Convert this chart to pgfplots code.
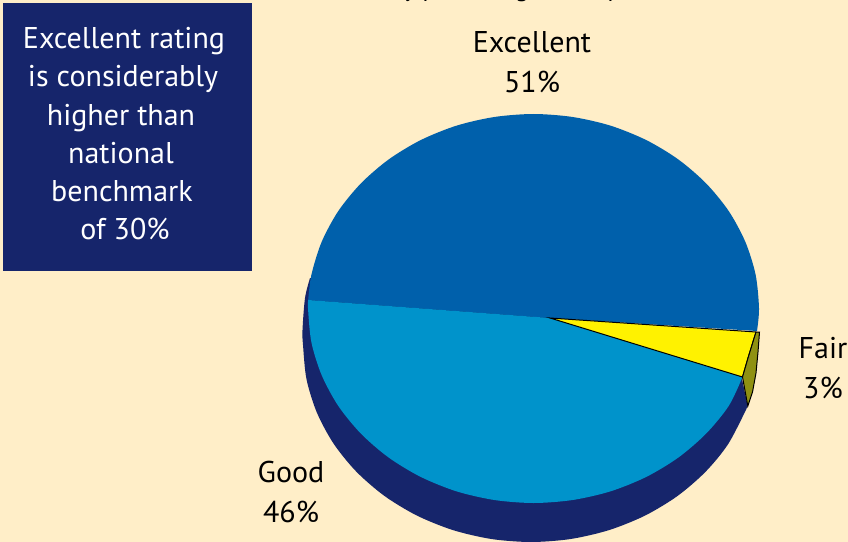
\documentclass[border=0pt]{standalone}
\usepackage{fontspec}
\setmainfont{PT Sans}
\usepackage{pgfplots}
\pgfplotsset{compat=1.18}
\definecolor{paper}{HTML}{FFEEC8}
\definecolor{navy}{HTML}{16256B}
\definecolor{excellent}{HTML}{0060AB}
\definecolor{good}{HTML}{0093CB}
\definecolor{fair}{HTML}{FFF200}
\definecolor{fairside}{HTML}{8F9112}
\newcommand{\lbl}[3]{\node[anchor=base,inner sep=0pt,#1] at (axis cs:#2) {#3};}
\begin{document}
\begin{tikzpicture}
\fontsize{30bp}{34bp}\selectfont
\path[use as bounding box] (0,0) rectangle (848bp,542bp);
\begin{axis}[
    scale only axis,
    width=848bp, height=542bp,
    xmin=0, xmax=848, ymin=0, ymax=542,
    y dir=reverse,
    hide axis,
    clip=true,
]
% background and note box
\addplot[fill=paper, draw=none] coordinates {(0,0) (848,0) (848,542) (0,542)} -- cycle;
\addplot[fill=navy, draw=none] coordinates {(3,3) (252,3) (252,271) (3,271)} -- cycle;
% pie side
\addplot[smooth, fill=navy, draw=none] coordinates {
    (310,278) (305,298) (302.5,330) (303,345) (306.5,379.2) (316.8,412.4) (333.5,443.5)
    (356.3,471.6) (384.4,495.9) (417,515.6) (453,530.1) (491.4,539) (531,542)
    (570.6,539) (609,530.1) (645,515.6) (677.6,495.9) (705.7,471.6) (728.5,443.5) (747.8,406)
} -- (axis cs:740,370) -- (axis cs:533,308) -- cycle;
% Excellent 51%
\addplot[smooth, fill=excellent, draw=none] coordinates {
    (757,331) (759,308.5) (755.6,274.7) (745.4,242) (728.8,211.2) (706.2,183.5) (678.4,159.5)
    (646.3,140.1) (610.6,125.7) (572.7,117) (533.5,114) (494.3,117) (456.4,125.7) (420.7,140.1)
    (388.6,159.5) (360.8,183.5) (338.2,211.2) (321.6,242) (311.4,274.7) (308.2,300)
} -- (axis cs:550,318) -- cycle;
% Good 46%
\addplot[smooth, fill=good, draw=none] coordinates {
    (308.2,300) (308,308.5) (311.4,342.3) (321.6,375) (338.2,405.8) (360.8,433.5) (388.6,457.5)
    (420.7,476.9) (456.4,491.3) (494.3,500) (533.5,503) (572.7,500) (610.6,491.3) (646.3,476.9)
    (678.4,457.5) (706.2,433.5) (728.8,405.8) (742.5,377)
} -- (axis cs:550,318) -- cycle;
% Fair 3%
\addplot[fill=fair, draw=black, line width=1bp] coordinates {
    (756,332) (752,345) (748,358) (742.5,377) (550,318)
} -- cycle;
\addplot[fill=fairside, draw=black, line width=1bp] coordinates {
    (756,332) (759.5,332) (758,352) (756,373) (752.5,392) (747.8,406) (742.5,377) (748,358) (752,345)
} -- cycle;
% title, cut by the top edge as in the source
\node[anchor=base west,inner sep=0pt,font=\fontsize{25bp}{30bp}\selectfont] at (axis cs:391,-3) {by percentage of respondents};
% labels
\lbl{}{532,53}{Excellent}
\lbl{}{532,92}{51\%}
\lbl{}{823,358}{Fair}
\lbl{}{823,398}{3\%}
\lbl{}{291,482}{Good}
\lbl{}{291,522}{46\%}
\lbl{white}{124,49}{Excellent rating}
\lbl{white}{123,87}{is considerably}
\lbl{white}{121,125}{higher than}
\lbl{white}{121,163}{national}
\lbl{white}{122,201}{benchmark}
\lbl{white}{125,239}{of 30\%}
\end{axis}
\end{tikzpicture}
\end{document}
